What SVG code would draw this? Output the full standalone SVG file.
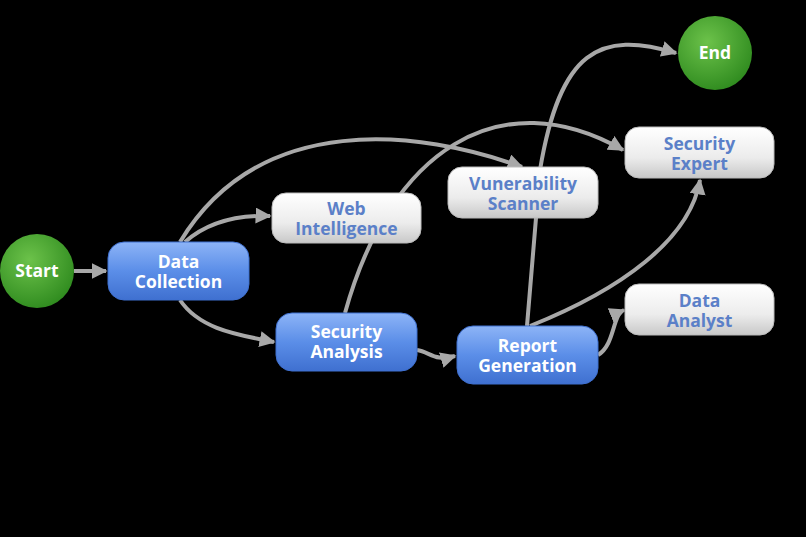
<svg xmlns="http://www.w3.org/2000/svg" width="806" height="537" viewBox="0 0 806 537">
<defs>
<linearGradient id="blue" x1="0" y1="0" x2="0" y2="1"><stop offset="0" stop-color="#8db4f7"/><stop offset="0.5" stop-color="#5b8ee8"/><stop offset="1" stop-color="#3f70d0"/></linearGradient>
<linearGradient id="grey" x1="0" y1="0" x2="0" y2="1"><stop offset="0" stop-color="#ffffff"/><stop offset="0.6" stop-color="#ececec"/><stop offset="1" stop-color="#c8c8c8"/></linearGradient>
<radialGradient id="green" cx="0.4" cy="0.35" r="0.7"><stop offset="0" stop-color="#6cc24a"/><stop offset="1" stop-color="#2e8a1e"/></radialGradient>
<marker id="arr" viewBox="0 0 10 10" refX="9" refY="5" markerWidth="4" markerHeight="4" orient="auto"><path d="M0,0 L10,5 L0,10 z" fill="#a8a8a8"/></marker>
</defs>
<style>
.e{fill:none;stroke:#a8a8a8;stroke-width:4;marker-end:url(#arr)}
.b{fill:url(#blue);stroke:#3f70d0;stroke-width:1}
.g{fill:url(#grey);stroke:#bbbbbb;stroke-width:1}
.c{fill:url(#green)}
text{font-family:"Open Sans","Liberation Sans",sans-serif;font-weight:bold;font-size:17.5px;text-anchor:middle}
.wt{fill:#ffffff}
.bt{fill:#5b80c8}
</style>
<rect width="806" height="537" fill="#000"/>
<g id="connectors">
<path class="e" d="M74,271 L106,271"/>
<path class="e" d="M185,242 C210,220 240,215 270,216"/>
<path class="e" d="M180,242 C260,110 420,130 522,167"/>
<path class="e" d="M180,300 C200,330 240,335 274,342"/>
<path class="e" d="M345,313 C390,150 500,80 623,150"/>
<path class="e" d="M417,350 C430,352 435,362 455,356"/>
<path class="e" d="M527,326 L540,170 C560,50 600,30 676,53"/>
<path class="e" d="M530,326 C620,290 690,240 700,180"/>
<path class="e" d="M598,355 C615,345 612,315 624,310"/>
</g>
<g id="start"><circle class="c" cx="37" cy="271" r="37"/><text class="wt" x="37" y="277">Start</text></g>
<g id="data-collection"><rect class="b" x="108" y="242" width="141" height="58" rx="16"/><text class="wt" x="178.5" y="268">Data</text><text class="wt" x="178.5" y="288">Collection</text></g>
<g id="web-intelligence"><rect class="g" x="272" y="193" width="149" height="50" rx="14"/><text class="bt" x="346.5" y="215">Web</text><text class="bt" x="346.5" y="235">Intelligence</text></g>
<g id="security-analysis"><rect class="b" x="276" y="313" width="141" height="58" rx="16"/><text class="wt" x="346.5" y="338">Security</text><text class="wt" x="346.5" y="358">Analysis</text></g>
<g id="vulnerability-scanner"><rect class="g" x="448" y="167" width="150" height="51" rx="14"/><text class="bt" x="523" y="190">Vunerability</text><text class="bt" x="523" y="210">Scanner</text></g>
<g id="report-generation"><rect class="b" x="457" y="326" width="141" height="58" rx="16"/><text class="wt" x="527.5" y="352">Report</text><text class="wt" x="527.5" y="372">Generation</text></g>
<g id="security-expert"><rect class="g" x="625" y="127" width="149" height="51" rx="14"/><text class="bt" x="699.5" y="150">Security</text><text class="bt" x="699.5" y="170">Expert</text></g>
<g id="data-analyst"><rect class="g" x="625" y="284" width="149" height="51" rx="14"/><text class="bt" x="699.5" y="307">Data</text><text class="bt" x="699.5" y="327">Analyst</text></g>
<g id="end"><circle class="c" cx="715" cy="53" r="37"/><text class="wt" x="715" y="59">End</text></g>
</svg>
